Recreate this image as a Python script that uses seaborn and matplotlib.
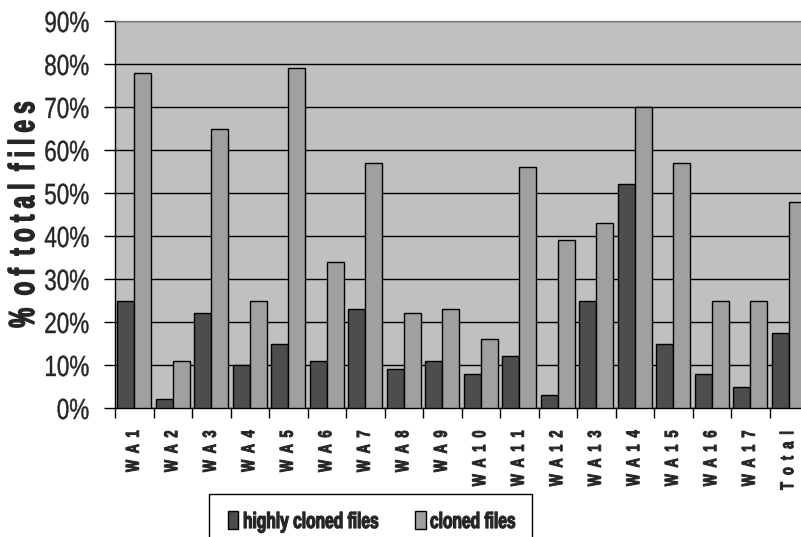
import matplotlib
matplotlib.use("Agg")
import matplotlib.pyplot as plt
from matplotlib.ticker import FixedLocator, PercentFormatter
from matplotlib.patheffects import AbstractPathEffect
from matplotlib.transforms import Affine2D
from matplotlib.patches import Rectangle
import seaborn as sns
import pandas as pd

categories = ["WA1", "WA2", "WA3", "WA4", "WA5", "WA6", "WA7", "WA8", "WA9",
              "WA10", "WA11", "WA12", "WA13", "WA14", "WA15", "WA16", "WA17", "Total"]
highly_cloned = [25, 2, 22, 10, 15, 11, 23, 9, 11, 8, 12, 3, 25, 52, 15, 8, 5, 17.4]
cloned = [78, 11, 65, 25, 79, 34, 57, 22, 23, 16, 56, 39, 43, 70, 57, 25, 25, 48]
series_names = ["highly cloned files", "cloned files"]
tick_labels = ["W  A  " + "  ".join(c[2:]) if c.startswith("WA") else "  ".join(c)
               for c in categories]
y_label = "%  o f  t o t a l  f i l e s"
colors = ["#4d4d4d", "#a0a0a0"]

df = pd.DataFrame({
    "category": categories * 2,
    "series": [series_names[0]] * len(categories) + [series_names[1]] * len(categories),
    "value": highly_cloned + cloned,
})


class Condense(AbstractPathEffect):
    """Squeeze glyphs along the text direction, keeping the given anchor fixed
    (0 = start of the text, 0.5 = middle, 1 = end); an optional outline in the
    text colour keeps the stems heavy."""

    def __init__(self, sx=0.7, anchor=0.0, stroke=0.0):
        super().__init__()
        self.sx = sx
        self.anchor = anchor
        self.stroke = stroke

    def draw_path(self, renderer, gc, tpath, affine, rgbFace=None):
        w = tpath.get_extents().x1
        shift = (1 - self.sx) * w * self.anchor
        t = Affine2D().scale(self.sx, 1).translate(shift, 0) + affine
        if self.stroke > 0 and rgbFace is not None:
            gc0 = renderer.new_gc()
            gc0.copy_properties(gc)
            gc0.set_linewidth(self.stroke)
            gc0.set_foreground(rgbFace)
            gc0.set_joinstyle("round")
            renderer.draw_path(gc0, tpath, t, rgbFace)
            gc0.restore()
        else:
            renderer.draw_path(gc, tpath, t, rgbFace)


sns.set_theme(style="white")
plt.rcParams["font.family"] = ["Liberation Sans", "DejaVu Sans"]

fig = plt.figure(figsize=(8.01, 5.37), dpi=100)
ax = fig.add_axes([115 / 801, 129 / 537, 693 / 801, 387 / 537])
ax.set_facecolor("#c0c0c0")

sns.barplot(data=df, x="category", y="value", hue="series", order=categories,
            palette=colors, width=0.88, gap=0,
            edgecolor="black", linewidth=1.0, saturation=1, ax=ax, zorder=3)

ax.set_ylim(0, 90)
ax.set_xlim(-0.5, len(categories) - 0.5)
ax.yaxis.set_major_locator(FixedLocator(range(0, 91, 10)))
ax.yaxis.set_major_formatter(PercentFormatter(decimals=0))
ax.grid(axis="y", color="black", linewidth=1.0, zorder=1)
ax.set_axisbelow(True)

for sp in ax.spines.values():
    sp.set_visible(True)
    sp.set_linewidth(1.0)
ax.spines["left"].set_color("black")
ax.spines["bottom"].set_color("black")
ax.spines["top"].set_color("#808080")
ax.spines["right"].set_color("#808080")

ax.tick_params(axis="y", which="major", direction="out", length=8, width=1,
               color="black", labelsize=21, pad=10.5, left=True)
ax.set_xticks(range(len(categories)))
ax.set_xticklabels(tick_labels, rotation=90, fontsize=13.5, fontweight="bold")
ax.tick_params(axis="x", which="major", length=0, pad=16)
ax.set_xticks([i - 0.5 for i in range(len(categories) + 1)], minor=True)
ax.tick_params(axis="x", which="minor", direction="out", length=7, width=1,
               color="black", bottom=True)

for lbl in ax.get_yticklabels():
    lbl.set_path_effects([Condense(0.77, 1.0, 0.3)])
for lbl in ax.get_xticklabels():
    lbl.set_path_effects([Condense(0.68, 1.0, 0.7)])

ax.set_xlabel("")
ax.set_ylabel(y_label, fontsize=26, fontweight="bold")
ax.yaxis.set_label_coords(-73 / 693, 0.5)
ax.yaxis.label.set_path_effects([Condense(0.62, 0.5, 1.0)])

ax.get_legend().remove()

# legend box below the axis labels
fig.patches.append(Rectangle((209 / 801, -0.02), 323 / 801, 1 - 494 / 537 + 0.02,
                             transform=fig.transFigure, facecolor="white",
                             edgecolor="black", linewidth=1.0))
for x0, tx, color, name in [(228, 243, colors[0], series_names[0]),
                            (415, 430, colors[1], series_names[1])]:
    fig.patches.append(Rectangle((x0 / 801, 8 / 537), 10.5 / 801, 18 / 537,
                                 transform=fig.transFigure, facecolor=color,
                                 edgecolor="black", linewidth=1.0))
    fig.text(tx / 801, 9 / 537, name, fontsize=16, fontweight="bold",
             va="baseline", ha="left", path_effects=[Condense(0.7, 0.0, 0.9)])

fig.savefig("out.png", dpi=100)
